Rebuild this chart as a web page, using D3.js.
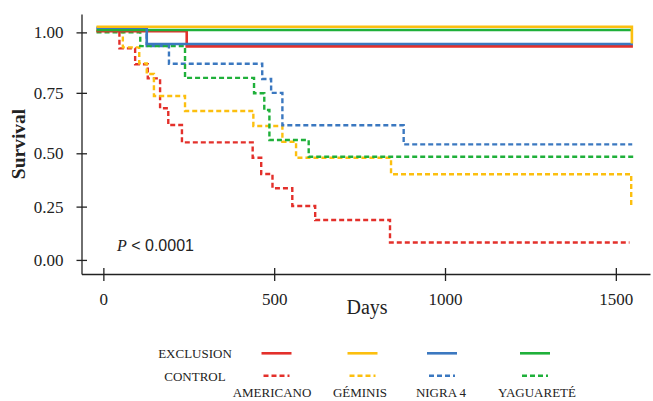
<!DOCTYPE html>
<html>
<head>
<meta charset="utf-8">
<script src="https://cdn.jsdelivr.net/npm/d3@7"></script>
<style>
	body { margin: 0; background: #fff; }
	svg { display: block; }
	.axis text { font-family: 'Liberation Serif', 'Times New Roman', serif; font-size: 17px; fill: #222; }
	.axis path, .axis line { stroke: #222; stroke-width: 1.3; }
</style>
</head>
<body>
<div id="chart"></div>
<script>
// groups and treatments
var groups = ['AMERICANO', 'GÉMINIS', 'NIGRA 4', 'YAGUARETÉ'];
var treatments = ['EXCLUSION', 'CONTROL'];
var xTicks = [0, 500, 1000, 1500];
var yTicks = [0, 0.25, 0.5, 0.75, 1];

// exclusion curves (days, survival)
var americanoExclDays = [-20, 244, 1550];
var americanoExclSurv = [1.005, 0.942, 0.942];
var geminisExclDays = [-20, 1547];
var geminisExclSurv = [1.023, 0.954];
var nigraExclDays = [-20, 127, 1550];
var nigraExclSurv = [1.019, 0.952, 0.952];
var yaguareteExclDays = [-20, 1545];
var yaguareteExclSurv = [1.01, 1.01];

// control curves (days, survival)
var americanoCtrlDays = [-20, 47, 93, 130, 166, 190, 230, 437, 462, 495, 553, 620, 839, 1540];
var americanoCtrlSurv = [1.007, 0.934, 0.868, 0.81, 0.686, 0.617, 0.545, 0.479, 0.403, 0.336, 0.253, 0.187, 0.082, 0.082];
var geminisCtrlDays = [-20, 57, 105, 127, 148, 239, 439, 524, 564, 842, 1545];
var geminisCtrlSurv = [1.007, 0.938, 0.872, 0.828, 0.737, 0.675, 0.613, 0.548, 0.479, 0.402, 0.253];
var nigraCtrlDays = [-20, 127, 192, 465, 491, 524, 879, 1548];
var nigraCtrlSurv = [1.018, 0.943, 0.87, 0.807, 0.75, 0.616, 0.537, 0.537];
var yaguareteCtrlDays = [-20, 108, 239, 441, 471, 486, 601, 1551];
var yaguareteCtrlSurv = [1.0, 0.943, 0.812, 0.748, 0.679, 0.555, 0.484, 0.484];

var colors = ['#e3302b', '#fcbf0f', '#3b78c0', '#1fb03a'];

var exclDays = [americanoExclDays, geminisExclDays, nigraExclDays, yaguareteExclDays];
var exclSurv = [americanoExclSurv, geminisExclSurv, nigraExclSurv, yaguareteExclSurv];
var ctrlDays = [americanoCtrlDays, geminisCtrlDays, nigraCtrlDays, yaguareteCtrlDays];
var ctrlSurv = [americanoCtrlSurv, geminisCtrlSurv, nigraCtrlSurv, yaguareteCtrlSurv];

var width = 653, height = 401;

var svg = d3.select('#chart').append('svg')
	.attr('width', width)
	.attr('height', height);

var x = d3.scaleLinear().domain([-64, 1600]).range([81.5, 650]);
// the survival axis of the original is stretched more above 0.5 than below
var y = d3.scaleLinear().domain([-0.066, 0.5, 1.076]).range([274, 153.3, 14]);

// x axis
var xAxis = svg.append('g')
	.attr('class', 'axis')
	.attr('transform', 'translate(0,274)')
	.call(d3.axisBottom(x).tickValues(xTicks).tickFormat(d3.format('d')).tickSize(0).tickSizeOuter(0).tickPadding(19));
xAxis.selectAll('.tick').append('line').attr('y1', -6).attr('y2', 7);

// y axis
var yAxis = svg.append('g')
	.attr('class', 'axis')
	.attr('transform', 'translate(81.5,0)')
	.call(d3.axisLeft(y).tickValues(yTicks).tickFormat(d3.format('.2f')).tickSize(0).tickSizeOuter(0).tickPadding(18));
yAxis.selectAll('.tick').append('line').attr('x1', -5).attr('x2', 5.5);

// axis titles
svg.append('text')
	.attr('x', 367).attr('y', 314)
	.attr('text-anchor', 'middle')
	.attr('font-family', 'Liberation Serif, serif')
	.attr('font-size', 20)
	.attr('fill', '#222')
	.text('Days');

svg.append('text')
	.attr('transform', 'translate(25,144) rotate(-90)')
	.attr('text-anchor', 'middle')
	.attr('font-family', 'Liberation Serif, serif')
	.attr('font-weight', 'bold')
	.attr('font-size', 19.5)
	.attr('fill', '#222')
	.text('Survival');

var pText = svg.append('text')
	.attr('x', 117).attr('y', 250.5)
	.attr('font-family', 'Liberation Sans, Arial, sans-serif')
	.attr('font-size', 16)
	.attr('fill', '#222');
pText.append('tspan').attr('font-style', 'italic').attr('font-family', 'Liberation Serif, serif').text('P');
pText.append('tspan').text(' < 0.0001');

// curves
var line = d3.line()
	.x(function(d) { return x(d[0]); })
	.y(function(d) { return y(d[1]); })
	.curve(d3.curveStepAfter);

function pairs(days, surv) {
	return days.map(function(d, i) { return [d, surv[i]]; });
}

var curves = svg.append('g');

ctrlDays.forEach(function(days, i) {
	curves.append('path')
		.attr('d', line(pairs(days, ctrlSurv[i])))
		.attr('fill', 'none')
		.attr('stroke', colors[i])
		.attr('stroke-width', 2.4)
		.attr('stroke-dasharray', '5,3');
});

// draw order for solid lines so yellow and blue sit on top like the original
[0, 3, 2, 1].forEach(function(i) {
	curves.append('path')
		.attr('d', line(pairs(exclDays[i], exclSurv[i])))
		.attr('fill', 'none')
		.attr('stroke', colors[i])
		.attr('stroke-width', 2.6);
});

// legend
var legendX = [276.5, 362.5, 442, 535];
var labelX = [272, 360, 441, 537];
var rowY = [353.3, 375.7];
var rowTextY = [358, 380.5];

var legend = svg.append('g')
	.attr('font-family', 'Liberation Serif, serif')
	.attr('font-size', 13)
	.attr('fill', '#222');

treatments.forEach(function(t, r) {
	legend.append('text')
		.attr('x', 195).attr('y', rowTextY[r])
		.attr('text-anchor', 'middle')
		.text(t);
});

groups.forEach(function(g, i) {
	legend.append('line')
		.attr('x1', legendX[i] - 15).attr('x2', legendX[i] + 15)
		.attr('y1', rowY[0]).attr('y2', rowY[0])
		.attr('stroke', colors[i])
		.attr('stroke-width', 2.6);
	legend.append('line')
		.attr('x1', legendX[i] - 13).attr('x2', legendX[i] + 13)
		.attr('y1', rowY[1]).attr('y2', rowY[1])
		.attr('stroke', colors[i])
		.attr('stroke-width', 2.4)
		.attr('stroke-dasharray', '5,3');
	legend.append('text')
		.attr('x', labelX[i]).attr('y', 397)
		.attr('text-anchor', 'middle')
		.text(g);
});
</script>
</body>
</html>
